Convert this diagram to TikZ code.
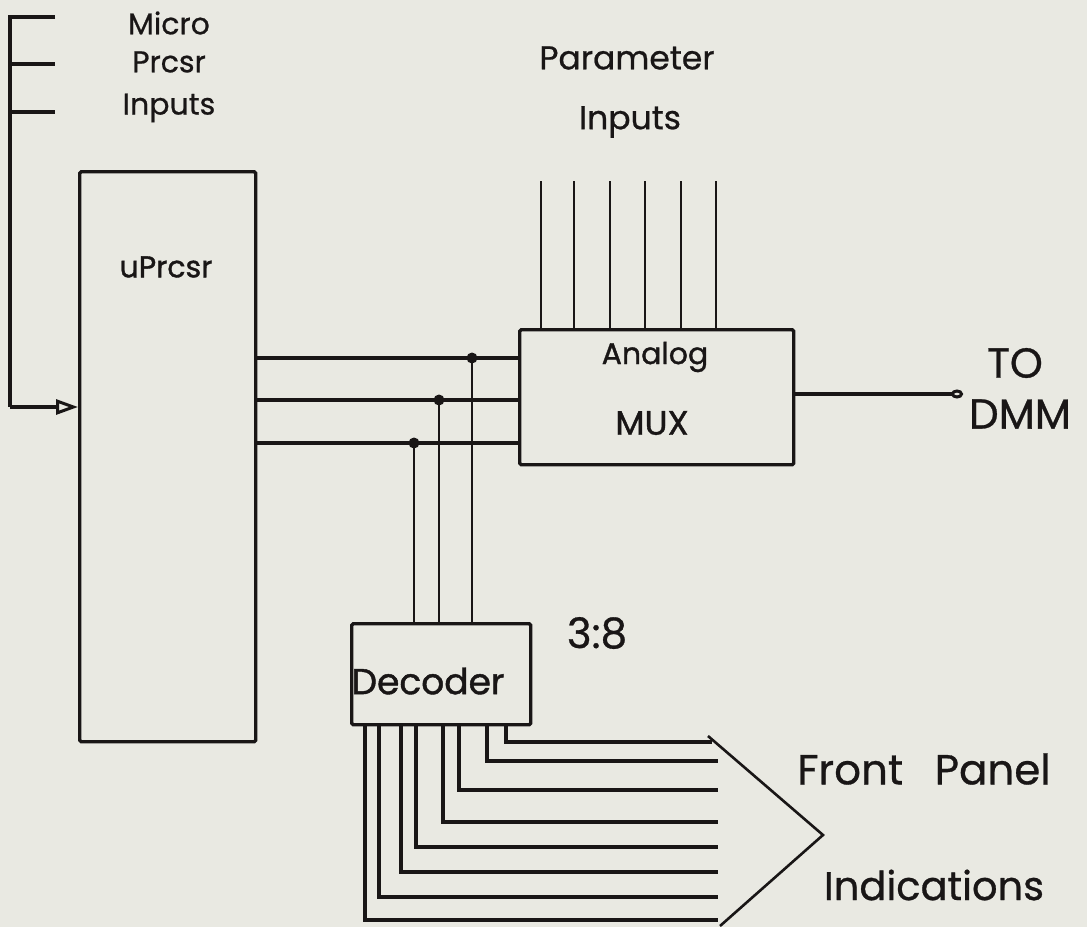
\documentclass[tikz,border=0pt]{standalone}
\usepackage{fontspec}
\setmainfont{Poppins}
\newfontfamily\medfont{Poppins}[FakeBold=0.7]
\newfontfamily\bfont{Poppins}[FakeBold=1.2]
\usetikzlibrary{arrows.meta}
\definecolor{bgcol}{RGB}{233,233,226}
\definecolor{ink}{RGB}{25,22,22}
\begin{document}
\begin{tikzpicture}[x=1pt,y=-1pt,
  wire/.style={draw=ink,line width=3.4pt},
  pin/.style={draw=ink,line width=2.6pt},
  box/.style={draw=ink,line width=3.4pt,inner sep=0pt,anchor=north west,rounded corners=1.5pt},
  small/.style={inner sep=0pt,text=ink,font=\medfont\fontsize{30}{32}\selectfont},
  boxlbl/.style={inner sep=0pt,text=ink,font=\bfont\fontsize{30}{32}\selectfont},
  mid/.style={inner sep=0pt,text=ink,font=\medfont\fontsize{33}{36}\selectfont},
  big/.style={inner sep=0pt,text=ink,font=\medfont\fontsize{42}{46}\selectfont},
  dot/.style={circle,fill=ink,inner sep=0pt,minimum size=11pt}]
\useasboundingbox[fill=bgcol] (0,0) rectangle (1087,927);

% boxes
\node[box,minimum width=176pt,minimum height=570pt] (up) at (78,170) {};
\node[box,minimum width=274pt,minimum height=135pt] (mux) at (518,328) {};
\node[box,minimum width=179pt,minimum height=101pt] (dec) at (350,622) {};

% labels
\node[small] (lmicro) at (169,23) {Micro};
\node[small] (lprcsr) at (169,62) {Prcsr};
\node[small] (linputs) at (169,108) {Inputs};
\node[boxlbl] (lup) at (166,267) {uPrcsr};
\node[boxlbl] (lanalog) at (655,357) {Analog};
\node[boxlbl,font=\bfont\fontsize{34}{36}\selectfont] (lmux) at (652,423) {MUX};
\node[boxlbl,font=\bfont\fontsize{36}{38}\selectfont] (ldec) at (428,681) {Decoder};
\node[mid] (lparam) at (627,58) {Parameter};
\node[mid] (lpin) at (630,122) {Inputs};
\node[big] (lto) at (1015,363) {TO};
\node[big] (ldmm) at (1020,414) {DMM};
\node[big] (l38) at (597,633) {3:8};
\node[big] (lfront) at (924,769) {Front\hspace{0.75em}Panel};
\node[big,font=\medfont\fontsize{40}{44}\selectfont] (lind) at (934,885) {Indications};

% micro processor inputs
\coordinate (t1) at (55,17);
\coordinate (t2) at (55,64);
\coordinate (t3) at (55,112);
\coordinate (c1) at (10,17);
\coordinate (c2) at (10,64);
\coordinate (c3) at (10,112);
\coordinate (c4) at (10,407);
\draw[wire] (t1) -- (c1) -- (c4);
\draw[wire] (c2) -- (t2);
\draw[wire] (c3) -- (t3);
\draw[wire,-{Triangle[open,length=22pt,width=15pt,line width=3pt]}] (c4) -- (up.west |- c4);

% buses uP -> MUX
\coordinate (b1) at (254,358);
\coordinate (b2) at (254,400);
\coordinate (b3) at (254,443);
\draw[wire] (b1) -- (b1 -| mux.west);
\draw[wire] (b2) -- (b2 -| mux.west);
\draw[wire] (b3) -- (b3 -| mux.west);
\node[dot] (d1) at (472,358) {};
\node[dot] (d2) at (439,400) {};
\node[dot] (d3) at (414,443) {};
\draw[pin] (d1.center) -- (d1 |- dec.north);
\draw[pin] (d2.center) -- (d2 |- dec.north);
\draw[pin] (d3.center) -- (d3 |- dec.north);

% parameter inputs
\foreach \x [count=\i] in {541,574,610,645,681,716}{
  \coordinate (p\i) at (\x,181);
  \draw[pin] (p\i) -- (p\i |- mux.north);
}

% output to DMM
\coordinate (out) at (963,394);
\draw[wire,-{Circle[open,length=12pt,width=9pt,line width=3pt]}] (mux.east |- out) -- (out);

% decoder outputs
\foreach \x/\y/\e in {506/742/712,487/761/718,459/790/718,443/822/718,416/847/718,401/872/718,379/897/718,365/920/718}{
  \coordinate (e) at (\e,\y);
  \draw[wire] (\x,723) |- (e);
}

% front panel bracket
\coordinate (k1) at (708,736);
\coordinate (k2) at (823,835);
\coordinate (k3) at (720,926);
\draw[pin] (k1) -- (k2) -- (k3);
\end{tikzpicture}
\end{document}
